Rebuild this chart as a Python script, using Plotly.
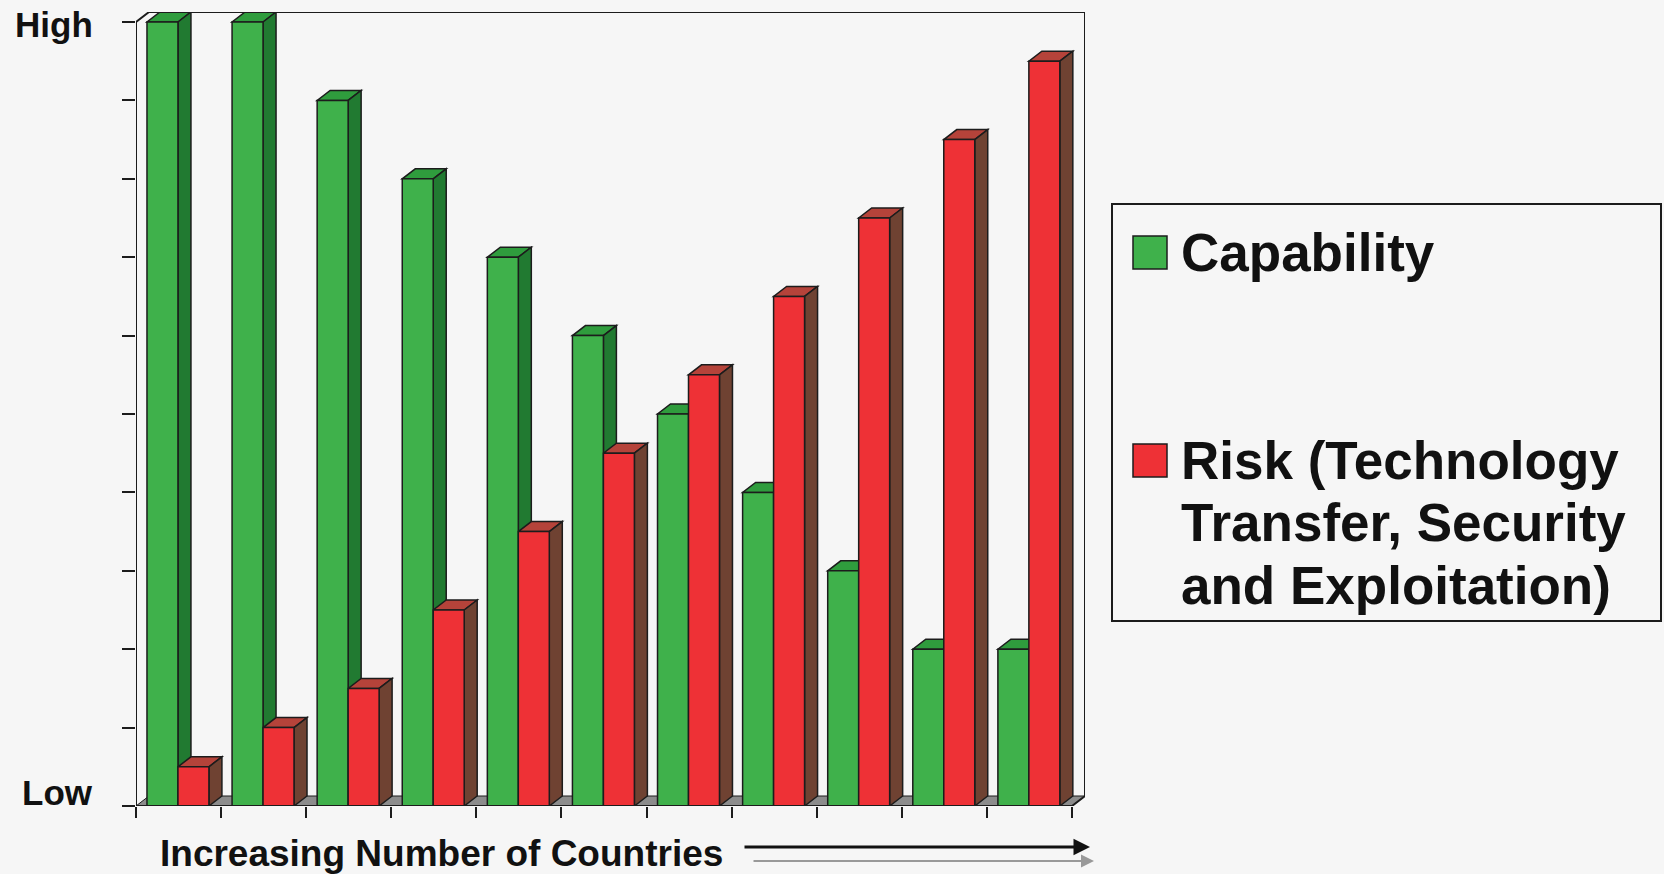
import plotly.graph_objects as go

# ---------------- data ----------------
categories = [f"Group {i}" for i in range(1, 12)]          # increasing number of countries
capability = [10, 10, 9, 8, 7, 6, 5, 4, 3, 2, 2]
risk = [0.5, 1, 1.5, 2.5, 3.5, 4.5, 5.5, 6.5, 7.5, 8.5, 9.5]
y_tick_values = [0, 10]
y_tick_labels = ["Low", "High"]
x_title = "Increasing Number of Countries"
series_names = ["Capability", "Risk (Technology Transfer, Security and Exploitation)"]
legend_lines = [["Capability"], ["Risk (Technology", "Transfer, Security", "and Exploitation)"]]

# ---------------- style ----------------
W, H = 1664, 874
L, R, T, B = 136, 1085, 12, 806          # plot area in pixels
XU = 85.1                                  # px per category
YU = 78.4                                  # px per value unit
DX = 13 / XU                               # 3D depth offset (data units)
DY = 10 / YU
G_OFF, BW = -0.371, 0.364                  # bar offset / width (data units)
R_OFF = G_OFF + BW

GREEN, GREEN_TOP, GREEN_SIDE = "#3fb14b", "#2f9c3d", "#217a31"
RED, RED_TOP, RED_SIDE = "#ee3136", "#b5433a", "#6f4232"
EDGE = "#1c1c1c"
FONT = "Liberation Sans, Arial, sans-serif"
BG = "#f6f6f6"

xs = list(range(len(categories)))


def px_x(px):
    return (px - L) / (R - L)


def px_y(py):
    return (B - py) / (B - T)


fig = go.Figure()
fig.add_trace(go.Bar(x=xs, y=capability, name=series_names[0], offset=G_OFF, width=BW,
                     marker=dict(color=GREEN, line=dict(color=EDGE, width=1.5)), showlegend=False))
fig.add_trace(go.Bar(x=xs, y=risk, name=series_names[1], offset=R_OFF, width=BW,
                     marker=dict(color=RED, line=dict(color=EDGE, width=1.5)), showlegend=False))

shapes = []
# floor
x_lo, x_hi = -0.5, len(categories) - 0.5
shapes.append(dict(type="path", xref="x", yref="y", layer="below",
                   path=f"M{x_lo},0 L{x_hi},0 L{x_hi+DX},{DY} L{x_lo+DX},{DY} Z",
                   fillcolor="#8c8c8c", line=dict(color=EDGE, width=1)))


def faces(x0, x1, v, top_col, side_col):
    out = []
    out.append(dict(type="path", xref="x", yref="y", layer="below",
                    path=f"M{x0},{v} L{x1},{v} L{x1+DX},{v+DY} L{x0+DX},{v+DY} Z",
                    fillcolor=top_col, line=dict(color=EDGE, width=1.5)))
    out.append(dict(type="path", xref="x", yref="y", layer="below",
                    path=f"M{x1},{v} L{x1+DX},{v+DY} L{x1+DX},{DY} L{x1},0 Z",
                    fillcolor=side_col, line=dict(color=EDGE, width=1.5)))
    return out


for i, (c, r) in enumerate(zip(capability, risk)):
    shapes += faces(i + G_OFF, i + G_OFF + BW, c, GREEN_TOP, GREEN_SIDE)
    shapes += faces(i + R_OFF, i + R_OFF + BW, r, RED_TOP, RED_SIDE)

# frame (front axis + back wall outline)
ymax = max(y_tick_values)
shapes.append(dict(type="path", xref="x", yref="y", layer="above",
                   path=(f"M{x_lo},0 L{x_lo},{ymax} L{x_lo+DX},{ymax+DY} L{x_hi+DX},{ymax+DY} "
                         f"L{x_hi+DX},{DY} L{x_hi},0 Z"),
                   line=dict(color=EDGE, width=2)))

# custom legend
lx0, lx1, ly0, ly1 = 1112, 1661, 204, 621
shapes.append(dict(type="rect", xref="paper", yref="paper",
                   x0=px_x(lx0), x1=px_x(lx1), y0=px_y(ly1), y1=px_y(ly0),
                   line=dict(color=EDGE, width=2), fillcolor="rgba(0,0,0,0)"))
marker_tops = [236, 444]
for col, top in zip([GREEN, RED], marker_tops):
    shapes.append(dict(type="rect", xref="paper", yref="paper",
                       x0=px_x(1133), x1=px_x(1167), y0=px_y(top + 33), y1=px_y(top),
                       line=dict(color=EDGE, width=1.5), fillcolor=col))

annotations = []
line_centers = [[253], [460, 522, 585]]
for lines, centers in zip(legend_lines, line_centers):
    for txt, cy in zip(lines, centers):
        annotations.append(dict(xref="paper", yref="paper", x=px_x(1179), y=px_y(cy),
                                xanchor="left", yanchor="middle", showarrow=False, text=txt,
                                font=dict(family=FONT, size=53, color="#111111")))

# High / Low labels
for v, lab, shift in zip(y_tick_values, y_tick_labels, [14, -2]):
    annotations.append(dict(xref="paper", yref="y", x=px_x(95), y=v, yshift=shift,
                            xanchor="right", yanchor="middle", showarrow=False, text=f"<b>{lab}</b>",
                            font=dict(family=FONT, size=35, color="#111111")))

# x-axis title
annotations.append(dict(xref="paper", yref="paper", x=px_x(158), y=px_y(854),
                        xanchor="left", yanchor="middle", showarrow=False, text=f"<b>{x_title}</b>",
                        font=dict(family=FONT, size=37, color="#111111")))
# arrows
annotations.append(dict(xref="paper", yref="paper", x=px_x(1090), y=px_y(847), ax=-347, ay=0,
                        text="", showarrow=True, arrowhead=2, arrowsize=1.1, arrowwidth=3,
                        arrowcolor="#111111", standoff=0))
annotations.append(dict(xref="paper", yref="paper", x=px_x(1094), y=px_y(861), ax=-342, ay=0,
                        text="", showarrow=True, arrowhead=2, arrowsize=1.3, arrowwidth=2,
                        arrowcolor="#999999", standoff=0))

# legend-label bold via font weight
for a in annotations[:4]:
    a["text"] = f"<b>{a['text']}</b>"

fig.update_layout(
    width=W, height=H,
    margin=dict(l=L, r=W - R, t=T, b=H - B, pad=0),
    paper_bgcolor=BG, plot_bgcolor=BG,
    barmode="overlay",
    shapes=shapes, annotations=annotations,
    showlegend=False,
    font=dict(family=FONT),
    xaxis=dict(range=[x_lo, x_hi + DX], showgrid=False, zeroline=False, showline=False,
               tickmode="array", tickvals=[x_lo + k for k in range(len(categories) + 1)],
               ticks="outside", ticklen=11, tickwidth=2, tickcolor=EDGE, showticklabels=False),
    yaxis=dict(range=[0, ymax + DY], showgrid=False, zeroline=False, showline=False,
               tickmode="array", tickvals=list(range(0, ymax + 1)),
               ticks="outside", ticklen=13, tickwidth=2, tickcolor=EDGE, showticklabels=False),
)

fig.write_html("out.html")
